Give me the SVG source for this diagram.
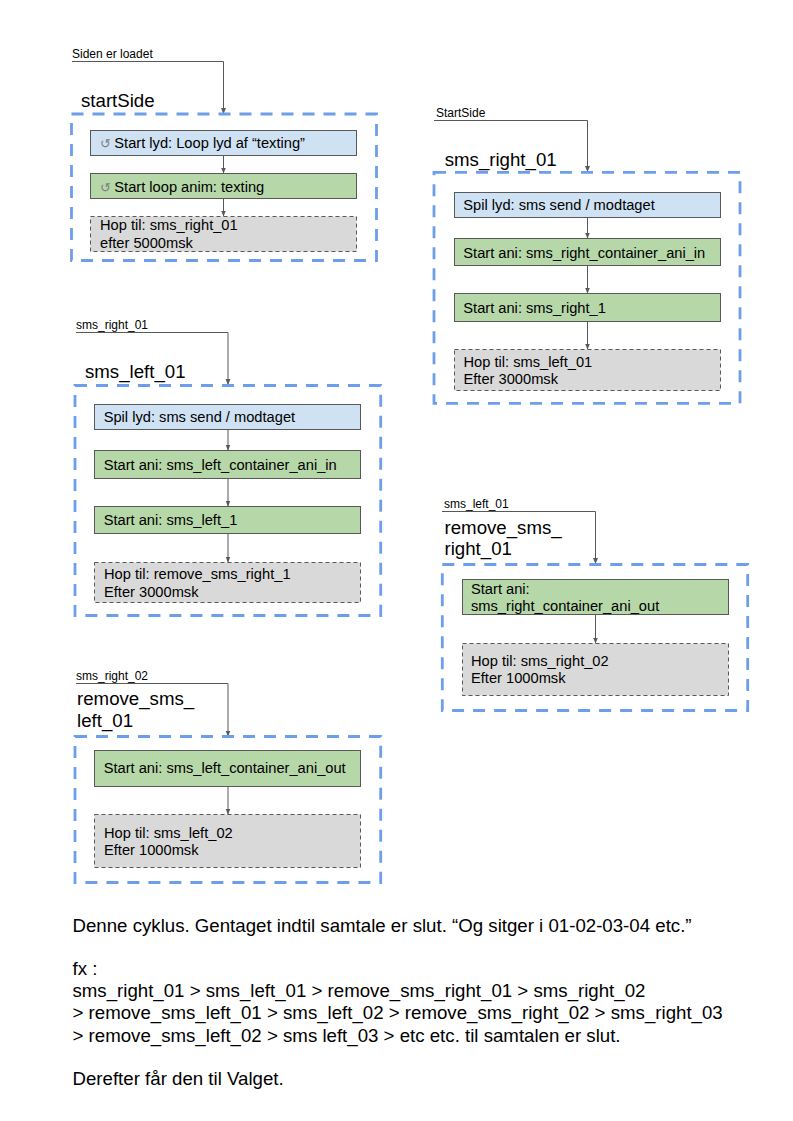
<svg xmlns="http://www.w3.org/2000/svg" width="793" height="1121" viewBox="0 0 793 1121">
<style>
text{font-family:"Liberation Sans",Arial,sans-serif;fill:#000}
.s{font-size:12px}
.b{font-size:14.67px}
.h{font-size:18.67px}
.t{font-size:18.67px}
.i{fill:#808080;font-size:13px}
.f{fill:none;stroke:#6d9eeb;stroke-width:2.800;stroke-dasharray:12 9}
.blue{fill:#cfe2f3;stroke:#595959;stroke-width:1}
.green{fill:#b6d7a8;stroke:#595959;stroke-width:1}
.grey{fill:#d9d9d9;stroke:#595959;stroke-width:1;stroke-dasharray:4 3}
.c{fill:none;stroke:#595959;stroke-width:1;marker-end:url(#a)}
</style>
<defs><marker id="a" markerUnits="userSpaceOnUse" markerWidth="8" markerHeight="8" refX="6" refY="4" orient="auto"><path d="M0,1.500 L6,4 L0,6.500 Z" fill="#595959"/></marker></defs>
<rect width="793" height="1121" fill="#fff"/>
<g id="connectors">
<path class="c" d="M72,61.500H223.500V114"/>
<path class="c" d="M223.500,155.500V173.500"/>
<path class="c" d="M223.500,198.500V216.500"/>
<path class="c" d="M434,120.500H587.500V172"/>
<path class="c" d="M587.500,217.500V238.500"/>
<path class="c" d="M587.500,265.500V293.500"/>
<path class="c" d="M587.500,321.500V349.500"/>
<path class="c" d="M76,332.500H228V385"/>
<path class="c" d="M228,429.500V450.500"/>
<path class="c" d="M228,478.500V506.500"/>
<path class="c" d="M228,533.500V562.500"/>
<path class="c" d="M442,511.500H595.500V564"/>
<path class="c" d="M595.500,614.500V643.500"/>
<path class="c" d="M76,683.500H228V736.500"/>
<path class="c" d="M228,786.500V814.500"/>
</g>
<g id="startSide">
<text class="s" x="72" y="58">Siden er loadet</text>
<text class="h" x="81" y="107">startSide</text>
<rect class="f" x="71.500" y="114" width="305" height="146.500"/>
<rect class="blue" x="90.500" y="130.500" width="266" height="25"/>
<text class="i" x="99.500" y="147.500">↺</text>
<text class="b" x="114.300" y="148">Start lyd: Loop lyd af “texting”</text>
<rect class="green" x="90.500" y="173.500" width="266" height="25"/>
<text class="i" x="99.500" y="191.500">↺</text>
<text class="b" x="114.300" y="192">Start loop anim: texting</text>
<rect class="grey" x="90.500" y="216.500" width="266" height="35"/>
<text class="b" x="100" y="230">Hop til: sms_right_01</text>
<text class="b" x="100" y="247.500">efter 5000msk</text>
</g>
<g id="sms_right_01">
<text class="s" x="436" y="117">StartSide</text>
<text class="h" x="444.700" y="166">sms_right_01</text>
<rect class="f" x="434" y="172.300" width="306" height="231"/>
<rect class="blue" x="454.500" y="192.500" width="266" height="25"/>
<text class="b" x="463.300" y="210">Spil lyd: sms send / modtaget</text>
<rect class="green" x="454.500" y="238.500" width="266" height="27"/>
<text class="b" x="463.300" y="257.500">Start ani: sms_right_container_ani_in</text>
<rect class="green" x="454.500" y="293.500" width="266" height="28"/>
<text class="b" x="463.300" y="312.700">Start ani: sms_right_1</text>
<rect class="grey" x="454.500" y="349.500" width="266" height="41"/>
<text class="b" x="463.500" y="366.500">Hop til: sms_left_01</text>
<text class="b" x="463.500" y="384.300">Efter 3000msk</text>
</g>
<g id="sms_left_01">
<text class="s" x="76" y="329">sms_right_01</text>
<text class="h" x="85" y="378">sms_left_01</text>
<rect class="f" x="75" y="385.500" width="305.700" height="230"/>
<rect class="blue" x="94.500" y="404.500" width="266" height="25"/>
<text class="b" x="103.700" y="421.700">Spil lyd: sms send / modtaget</text>
<rect class="green" x="94.500" y="450.500" width="266" height="28"/>
<text class="b" x="103.700" y="470">Start ani: sms_left_container_ani_in</text>
<rect class="green" x="94.500" y="506.500" width="266" height="27"/>
<text class="b" x="103.700" y="525">Start ani: sms_left_1</text>
<rect class="grey" x="94.500" y="562.500" width="266" height="40"/>
<text class="b" x="104" y="579">Hop til: remove_sms_right_1</text>
<text class="b" x="104" y="596.700">Efter 3000msk</text>
</g>
<g id="remove_sms_right_01">
<text class="s" x="444" y="508.300">sms_left_01</text>
<text class="h" x="444.500" y="533.500">remove_sms_</text>
<text class="h" x="444.500" y="555.300">right_01</text>
<rect class="f" x="442.300" y="564.500" width="305.400" height="146"/>
<rect class="green" x="462.500" y="579.500" width="266" height="35"/>
<text class="b" x="471" y="593.500">Start ani:</text>
<text class="b" x="471" y="611.300">sms_right_container_ani_out</text>
<rect class="grey" x="462.500" y="643.500" width="266" height="52"/>
<text class="b" x="471" y="665.700">Hop til: sms_right_02</text>
<text class="b" x="471" y="683.300">Efter 1000msk</text>
</g>
<g id="remove_sms_left_01">
<text class="s" x="76" y="680">sms_right_02</text>
<text class="h" x="77" y="705">remove_sms_</text>
<text class="h" x="77" y="726.700">left_01</text>
<rect class="f" x="75" y="736.500" width="305.700" height="146"/>
<rect class="green" x="94.500" y="750.500" width="266" height="36"/>
<text class="b" x="103.700" y="773">Start ani: sms_left_container_ani_out</text>
<rect class="grey" x="94.500" y="814.500" width="266" height="53"/>
<text class="b" x="104" y="837.500">Hop til: sms_left_02</text>
<text class="b" x="104" y="855">Efter 1000msk</text>
</g>
<g id="notes">
<text class="t" x="72.500" y="931.500">Denne cyklus. Gentaget indtil samtale er slut. “Og sitger i 01-02-03-04 etc.”</text>
<text class="t" x="72.500" y="975">fx :</text>
<text class="t" x="72.500" y="997">sms_right_01 &gt; sms_left_01 &gt; remove_sms_right_01 &gt; sms_right_02</text>
<text class="t" x="72.500" y="1019">&gt; remove_sms_left_01 &gt; sms_left_02 &gt; remove_sms_right_02 &gt; sms_right_03</text>
<text class="t" x="72.500" y="1041.500">&gt; remove_sms_left_02 &gt; sms left_03 &gt; etc etc. til samtalen er slut.</text>
<text class="t" x="72.500" y="1085">Derefter får den til Valget.</text>
</g>
</svg>
